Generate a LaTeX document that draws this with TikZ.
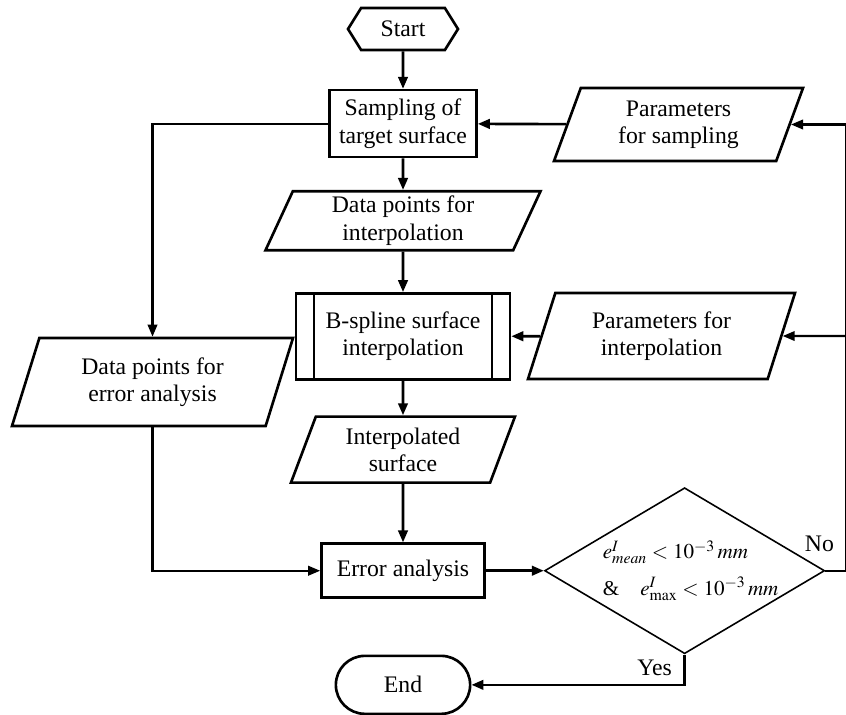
\documentclass[tikz,border=0pt]{standalone}
\usepackage{mathptmx}
\usepackage{fontspec}
\setmainfont{Liberation Serif}
\usetikzlibrary{shapes.geometric,shapes.misc,shapes.symbols,positioning,arrows.meta,calc}

\begin{document}
\begin{tikzpicture}[
    node distance=0.8cm and 1.2cm,
    every node/.style={font=\fontsize{13.5}{15.5}\selectfont},
    box/.style={rectangle, draw, line width=1.5pt, minimum width=2.94cm, minimum height=1.34cm, align=center, inner sep=2pt},
    io/.style={trapezium, trapezium left angle=64, trapezium right angle=116, trapezium stretches body, draw, line width=1.5pt, align=center, inner sep=2pt},
    process/.style={box, path picture={
        \draw[line width=0.9pt] ([xshift=0.36cm]path picture bounding box.north west) -- ([xshift=0.36cm]path picture bounding box.south west);
        \draw[line width=0.9pt] ([xshift=-0.36cm]path picture bounding box.north east) -- ([xshift=-0.36cm]path picture bounding box.south east);}},
    lbl/.style={font=\fontsize{13.5}{15.5}\selectfont},
    arrow/.style={-{Triangle[length=2.4mm,width=1.9mm]}, line width=1.5pt},
    thinarrow/.style={arrow, line width=1.2pt},
]
\useasboundingbox (0,0) rectangle (16.92,-14.28);

% ====== Main column ======
\node[signal, signal to=east and west, signal pointer angle=116, draw, line width=1.5pt, minimum width=2.2cm, minimum height=0.84cm, inner sep=1pt] (start) at (8.06,-0.58) {Start};
\node[box, below=0.75cm of start] (samp) {Sampling of\\target surface};
\node[io, minimum width=5.5cm, minimum height=1.18cm, below=0.63cm of samp] (dpint) {Data points for\\interpolation};
\node[process, minimum width=4.28cm, minimum height=1.72cm, below=0.81cm of dpint] (bspl) {B-spline surface\\interpolation};
\node[io, minimum width=4.48cm, minimum height=1.32cm, below=0.69cm of bspl] (isurf) {Interpolated\\surface};
\node[box, minimum width=3.26cm, minimum height=1.08cm, below=1.17cm of isurf] (err) {Error analysis};
\node[rounded rectangle, draw, line width=1.5pt, minimum width=2.92cm, minimum height=1.16cm, below=1.11cm of err] (stop) {End};

\draw[arrow] (start) -- (samp);
\draw[arrow] (samp) -- (dpint);
\draw[arrow] (dpint) -- (bspl);
\draw[arrow] (bspl) -- (isurf);
\draw[arrow] (isurf) -- (err);

% ====== Inputs ======
\node[io, minimum width=4.98cm, minimum height=1.46cm] (parsamp) at (13.57,-2.49) {Parameters\\for sampling};
\node[io, minimum width=5.34cm, minimum height=1.72cm] (parint) at (13.23,-6.72) {Parameters for\\interpolation};
\node[io, minimum width=5.62cm, minimum height=1.76cm] (dperr) at (3.05,-7.64) {Data points for\\error analysis};

\draw[arrow] (parsamp) -- (samp);
\draw[arrow] (parint) -- (bspl);
\draw[thinarrow] (samp) -| (dperr);
\draw[thinarrow] (dperr) |- (err);

% ====== Decision ======
\node[diamond, draw, line width=0.9pt, minimum width=5.6cm, minimum height=3.32cm, aspect=1.69, inner sep=0pt, right=1.16cm of err] (dec) {};
\node[align=left, font=\fontsize{12}{14}\selectfont, xshift=0.12cm] (cond) at (dec)
{$e^{I}_{mean}<10^{-3}\,mm$\\[7pt]\&\quad$e^{I}_{\max}<10^{-3}\,mm$};

\draw[arrow] (err) -- (dec);

\coordinate[right=0.42cm of dec.east] (rx);
\draw[line width=1.2pt] (dec.east) -- (rx);
\draw[thinarrow] (rx) |- (parsamp);
\draw[thinarrow] (rx |- parint) -- (parint);
\draw[arrow] (dec) |- (stop);

\node[lbl] (no) at ($(dec.east)+(-0.12,0.54)$) {No};
\node[lbl] (yes) at ($(dec.south)+(-0.6,-0.26)$) {Yes};

\end{tikzpicture}
\end{document}
